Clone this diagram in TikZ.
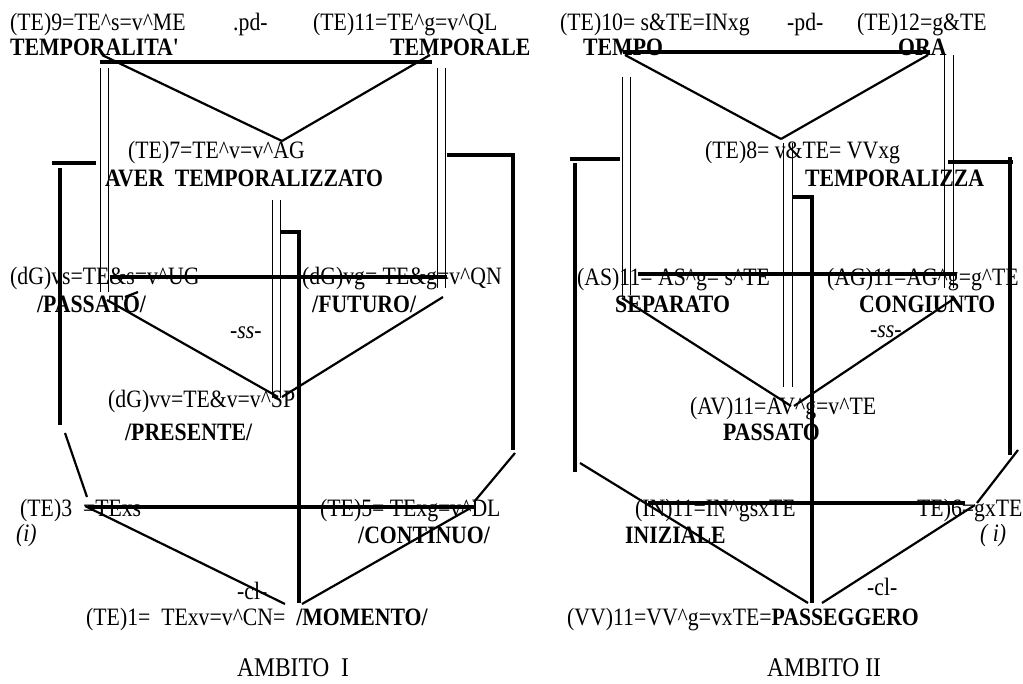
\documentclass[tikz,border=0pt]{standalone}
\usepackage{fontspec}
\setmainfont{Liberation Serif}[FakeStretch=0.87]
\usetikzlibrary{positioning}
\newcommand{\crt}{\textasciicircum}

\begin{document}
\begin{tikzpicture}[x=1pt,y=-1pt, font=\fontsize{25}{30}\selectfont,
  lbl/.style={anchor=base west,inner sep=0pt},
  hd/.style={lbl,font=\fontsize{25}{30}\selectfont\bfseries},
  it/.style={lbl,font=\fontsize{25}{30}\selectfont\itshape},
  amb/.style={lbl,font=\fontsize{27}{32}\selectfont},
  bar/.style={line width=3.2pt},
  diag/.style={line width=2.2pt},
  rail/.style={line width=0.9pt}]
\useasboundingbox (0,0) rectangle (1023,684);

% AMBITO I -- texts
\node[lbl] (te9)  at (10,31)  {(TE)9=TE\crt s=v\crt ME};
\node[lbl] (pdI)  at (233,31) {.pd-};
\node[lbl] (te11) at (313,31) {(TE)11=TE\crt g=v\crt QL};
\node[hd] (temporalita) at (10,56)  {TEMPORALITA\textquotesingle};
\node[hd] (temporale)   at (390,56) {TEMPORALE};
\node[lbl] (te7)  at (128,159) {(TE)7=TE\crt v=v\crt AG};
\node[hd] (aver)  at (105,187) {AVER~~TEMPORALIZZATO};
\node[lbl] (dgvs) at (10,285)  {(dG)vs=TE\&s=v\crt UG};
\node[hd] (passato) at (37,313) {/PASSATO/};
\node[lbl] (dgvg) at (302,285) {(dG)vg= TE\&g=v\crt QN};
\node[hd] (futuro) at (312,313) {/FUTURO/};
\node[it] (ssI) at (230,339) {-ss-};
\node[lbl] (dgvv) at (108,408) {(dG)vv=TE\&v=v\crt SP};
\node[hd] (presente) at (125,440) {/PRESENTE/};
\node[lbl] (te3) at (20,516) {(TE)3~~=TExs};
\node[it] (iI) at (16,541) {(i)};
\node[lbl] (te5) at (320,516) {(TE)5= TExg=v\crt DL};
\node[hd] (continuo) at (358,543) {/CONTINUO/};
\node[lbl] (clI) at (237,599) {-cl-};
\node[lbl] (te1) at (86,625) {(TE)1=~~TExv=v\crt CN=~~\textbf{/MOMENTO/}};
\node[amb] (ambI) at (237,676) {AMBITO~~I};

% AMBITO II -- texts
\node[lbl] (te10) at (560,31) {(TE)10= s\&TE=INxg};
\node[lbl] (pdII) at (787,31) {-pd-};
\node[lbl] (te12) at (857,31) {(TE)12=g\&TE};
\node[hd] (tempo) at (583,56) {TEMPO};
\node[hd] (ora)   at (898,56) {ORA};
\node[lbl] (te8)  at (705,159) {(TE)8= v\&TE= VVxg};
\node[hd] (temporalizza) at (805,187) {TEMPORALIZZA};
\node[lbl] (as11) at (577,286) {(AS)11= AS\crt g= s\crt TE};
\node[hd] (separato) at (615,313) {SEPARATO};
\node[lbl] (ag11) at (827,286) {(AG)11=AG\crt g=g\crt TE};
\node[hd] (congiunto) at (859,313) {CONGIUNTO};
\node[it] (ssII) at (870,338) {-ss-};
\node[lbl] (av11) at (690,415) {(AV)11=AV\crt g=v\crt TE};
\node[hd] (passatoII) at (723,441) {PASSATO};
\node[lbl] (in11) at (635,516) {(IN)11=IN\crt gsxTE};
\node[hd] (iniziale) at (625,543) {INIZIALE};
\node[lbl] (te6) at (917,516) {TE)6=gxTE};
\node[it] (iII) at (980,541) {( i)};
\node[lbl] (clII) at (867,595) {-cl-};
\node[lbl] (vv11) at (567,625) {(VV)11=VV\crt g=vxTE=\textbf{PASSEGGERO}};
\node[amb] (ambII) at (767,676) {AMBITO II};

% AMBITO I -- lines
\coordinate (I-pdl) at (100,62);  \coordinate (I-pdr) at (432,62);
\coordinate (I-tl)  at (102,55);  \coordinate (I-tr)  at (430,55);  \coordinate (I-v7) at (282,141);
\coordinate (I-sl)  at (110,277); \coordinate (I-sr)  at (447,277);
\coordinate (I-ml)  at (107,300); \coordinate (I-mr)  at (443,297); \coordinate (I-vv) at (280,397);
\coordinate (I-cl)  at (88,507);  \coordinate (I-cr)  at (474,507);
\coordinate (I-bl)  at (85,506);  \coordinate (I-br)  at (474,506); \coordinate (I-v1) at (293,604);
\draw[bar] (I-pdl) -- (I-pdr);
\draw[diag] (I-tl) -- (I-v7); \draw[diag] (I-tr) -- (I-v7);
\foreach \x/\ya/\yb in {100/68/292,108/68/292,437/68/288,445/68/288,272/200/398,280/200/398}
  \draw[rail] (\x,\ya) -- (\x,\yb);
\draw[bar] (52,163) -- (96,163); \draw[bar] (60,168) -- (60,425);
\draw[bar] (447,155) -- (513,155) -- (513,450);
\draw[bar] (280,232) -- (299,232) -- (299,603);
\draw[bar] (I-sl) -- (I-sr);
\draw[diag] (I-ml) -- ([xshift=-2pt]I-vv); \draw[diag] (I-mr) -- ([xshift=2pt]I-vv);
\draw[diag] (125,297) -- (138,292);
\draw[diag] (65,433) -- (87,497); \draw[diag] (515,453) -- (474,502);
\draw[bar] (I-cl) -- (I-cr);
\draw[diag] (I-bl) -- ([xshift=-8pt]I-v1); \draw[diag] (I-br) -- ([xshift=9pt]I-v1);

% AMBITO II -- lines
\coordinate (II-pdl) at (623,52);  \coordinate (II-pdr) at (930,52);
\coordinate (II-tl)  at (625,55);  \coordinate (II-tr)  at (928,55);  \coordinate (II-v8) at (781,139);
\coordinate (II-sl)  at (638,274); \coordinate (II-sr)  at (957,274);
\coordinate (II-ml)  at (622,298); \coordinate (II-mr)  at (955,298); \coordinate (II-av) at (792,406);
\coordinate (II-cl)  at (648,503); \coordinate (II-cr)  at (965,503);
\coordinate (II-bl)  at (580,463); \coordinate (II-br)  at (975,505); \coordinate (II-vv) at (815,603);
\draw[bar] (II-pdl) -- (II-pdr);
\draw[diag] (II-tl) -- (II-v8); \draw[diag] (II-tr) -- (II-v8);
\foreach \x/\ya/\yb in {622/77/296,630/77/295,944/55/288,953/55/288,783/143/387,792/143/387}
  \draw[rail] (\x,\ya) -- (\x,\yb);
\draw[bar] (570,159) -- (620,159); \draw[bar] (575,163) -- (575,472);
\draw[bar] (948,162) -- (1013,162); \draw[bar] (1010,157) -- (1010,455);
\draw[bar] (793,197) -- (812,197) -- (812,603);
\draw[bar] (II-sl) -- (II-sr);
\draw[diag] (II-ml) -- ([xshift=-1pt]II-av); \draw[diag] (II-mr) -- ([xshift=2pt]II-av);
\draw[diag] (1018,450) -- (977,503);
\draw[bar] (II-cl) -- (II-cr);
\draw[diag] (II-bl) -- ([xshift=-7pt]II-vv); \draw[diag] (II-br) -- ([xshift=7pt]II-vv);
\end{tikzpicture}
\end{document}
